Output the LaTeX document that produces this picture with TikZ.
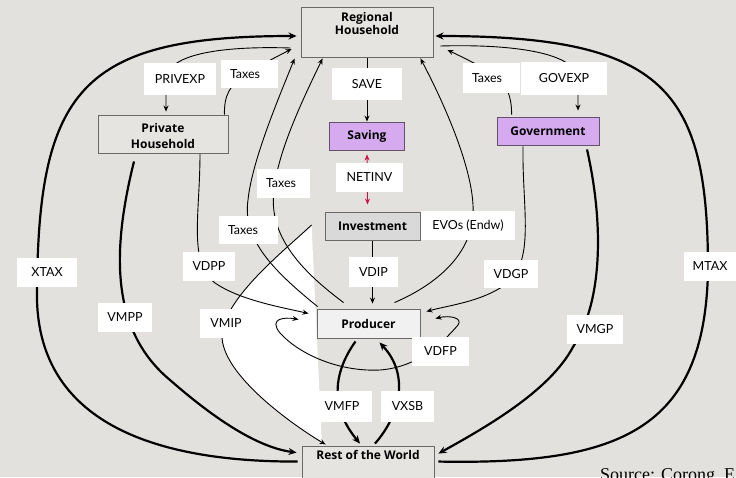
\documentclass[tikz,border=0pt]{standalone}
\usepackage{fontspec}
\setmainfont{Lato}
\newfontfamily\boxfont{Open Sans}
\newfontfamily\sourcefont{Liberation Serif}
\usetikzlibrary{arrows.meta,calc}

\definecolor{bgcol}{RGB}{227,225,221}
\definecolor{boxline}{RGB}{105,105,105}
\definecolor{hhfill}{RGB}{230,228,225}
\definecolor{purpfill}{RGB}{214,170,238}
\definecolor{purpline}{RGB}{100,82,108}
\definecolor{invfill}{RGB}{217,217,217}
\definecolor{prodfill}{RGB}{241,241,241}
\definecolor{netred}{RGB}{200,22,72}

\pgfdeclarelayer{bg}
\pgfdeclarelayer{lines}
\pgfsetlayers{bg,lines,main}

\begin{document}
\begin{tikzpicture}[x=1pt,y=-1pt,
  nodebox/.style={draw=boxline,line width=0.9pt,fill=hhfill,inner sep=0pt,align=center,
    font=\boxfont\bfseries\fontsize{12}{16}\selectfont},
  boxtext/.style={inner sep=0pt,align=center,font=\boxfont\bfseries\fontsize{12}{16}\selectfont},
  lbl/.style={fill=white,inner sep=0pt,font=\fontsize{12.5}{15}\selectfont},
  lblL/.style={lbl,align=left,inner xsep=9pt},
  flow/.style={line width=0.9pt,-{Stealth[length=6pt,width=5pt]}},
  flowplain/.style={line width=0.9pt},
  bigflow/.style={line width=2.2pt,-{Stealth[length=8pt,width=7pt]}},
  bigplain/.style={line width=2.2pt}]

\useasboundingbox (0,0) rectangle (736,477);
\clip (0,0) rectangle (736,477);

% ---------- sectors ----------
\node[nodebox, minimum width=132pt, minimum height=50pt] (rh) at (367,32) {};
\node[boxtext, font=\boxfont\bfseries\fontsize{12}{12.7}\selectfont] (rhtext) at (367,23.4) {Regional\\Household};
\node[nodebox, minimum width=130pt, minimum height=38pt] (ph) at (163,134) {};
\node[boxtext] (phtext) at (163,135.5) {Private\\Household};
\node[nodebox, fill=purpfill, draw=purpline, minimum width=75pt, minimum height=28pt] (sav) at (367,136) {Saving};
\node[nodebox, fill=purpfill, draw=purpline, minimum width=102pt, minimum height=28pt] (gov) at (548,131) {Government};
\node[nodebox, fill=invfill, minimum width=95pt, minimum height=28pt] (inv) at (372.5,226) {Investment};
\node[nodebox, fill=prodfill, minimum width=103pt, minimum height=29pt] (prod) at (368.5,323.5) {Producer};
\node[nodebox, minimum width=132pt, minimum height=60pt] (row) at (368,476) {};
\node[boxtext, anchor=base] (rowtext) at (368,459.3) {Rest of the World};

% ---------- background and flows ----------
\begin{pgfonlayer}{bg}
  \fill[bgcol] (0,0) rectangle (736,477);
  \fill[white] ($(inv.west)+(-13,-1)$) .. controls (285,250) and (224,298) .. (222,335)
     .. controls (221,372) and (285,420) .. ($(row.north west)+(24,-1)$) -- (322,446) -- cycle;
\end{pgfonlayer}

\begin{pgfonlayer}{lines}
  % export and import taxes (outer arcs)
  \draw[bigflow] ($(row.north west)+(-4,16)$) .. controls (150,462) and (40,420) .. (37,300)
     .. controls (37,90) and (80,36) .. ($(rh.west)+(-4,4)$);
  \draw[bigflow] ($(row.north east)+(4,16)$) .. controls (620,465) and (705,430) .. (708,270)
     .. controls (708,90) and (665,36) .. ($(rh.east)+(2,4)$);
  % private household
  \draw[flow] ($(rh.west)+(-10,16)$) .. controls (230,46) and (166,52) .. (166,80) -- ($(ph.north)+(3,-3)$);
  \draw[flow] ($(ph.north east)+(-4,0)$) .. controls (224,95) and (230,85) .. (245,75)
     .. controls (260,65) and (280,55) .. ($(rh.west)+(-9,17)$);
  \draw[flow] ($(ph.south)+(37,0)$) .. controls (200,215) and (188,262) .. (215,283)
     .. controls (240,300) and (280,307) .. ($(prod.west)+(-8,-10)$);
  \draw[bigflow] ($(ph.south)+(-29,8)$) .. controls (112,250) and (110,330) .. (170,380)
     .. controls (210,415) and (255,447) .. ($(row.north west)+(-5,7)$);
  % government
  \draw[flow] ($(rh.east)+(7,14)$) .. controls (510,44) and (578,52) .. (578,80) -- ($(gov.north)+(30,-6)$);
  \draw[flow] ($(gov.north west)+(15,-2)$) .. controls (512,95) and (505,80) .. (490,72)
     .. controls (475,63) and (458,55) .. ($(rh.east)+(14,18)$);
  \draw[flow] ($(gov.south)+(-25,1)$) .. controls (522,210) and (536,262) .. (505,285)
     .. controls (480,302) and (450,305) .. ($(prod.east)+(6,-12)$);
  \draw[bigflow] ($(gov.south)+(39,4)$) .. controls (603,220) and (604,300) .. (573,347)
     .. controls (550,390) and (490,425) .. ($(row.north east)+(4,8)$);
  % saving and investment
  \draw[flow] (rh.south) -- (sav.north);
  \draw[line width=0.9pt, netred, {Stealth[length=6pt,width=5pt]}-{Stealth[length=6pt,width=5pt]}]
     ($(sav.south)+(0,4)$) -- ($(inv.north)+(-5,-7)$);
  \draw[flow] (inv.south) -- ($(prod.north)+(4,-5)$);
  % producer
  \draw[flow] ($(prod.north west)+(1,-2)$) .. controls (275,272) and (242,240) .. (248,200)
     .. controls (252,160) and (280,95) .. ($(rh.south west)+(-6,1)$);
  \draw[flow] ($(prod.north west)+(27,-6)$) .. controls (300,270) and (268,235) .. (274,190)
     .. controls (278,150) and (305,95) .. ($(rh.south west)+(22,1)$);
  \draw[flow] ($(prod.north)+(26,-6)$) .. controls (440,283) and (476,250) .. (473,205)
     .. controls (471,165) and (445,105) .. ($(rh.south east)+(-13,1)$);
  \draw[flow] ($(inv.west)+(-13,-1)$) .. controls (285,250) and (224,298) .. (222,335)
     .. controls (221,372) and (285,420) .. ($(row.north west)+(24,-1)$);
  \draw[line width=0.9pt, {Stealth[length=6pt,width=5pt]}-{Stealth[length=6pt,width=5pt]}]
     ($(prod.west)+(-18,-4)$) .. controls (285,317) and (268,318) .. (280,333)
     .. controls (300,355) and (340,372) .. (380,370)
     .. controls (420,367) and (445,340) .. (458,325)
     .. controls (463,318) and (450,315) .. ($(prod.east)+(15,-5)$);
  \draw[bigflow] ($(prod.south)+(-13,3)$) .. controls (335,370) and (328,405) .. ($(row.north)+(-8,-2)$);
  \draw[bigflow] ($(row.north)+(7,-2)$) .. controls (400,415) and (410,375) .. ($(prod.south)+(11,4)$);
\end{pgfonlayer}

% ---------- flow labels ----------
\node[lbl, minimum width=72pt, minimum height=32pt] (lprivexp) at (180,79) {PRIVEXP};
\node[lblL, text width=39pt, minimum height=28pt] (ltaxa) at (249.5,74) {Taxes};
\node[lbl, minimum width=70pt, minimum height=32pt] (lsave) at (367,84) {SAVE};
\node[lblL, text width=39pt, minimum height=30pt] (ltaxb) at (491.5,78) {Taxes};
\node[lbl, minimum width=86pt, minimum height=33pt] (lgovexp) at (564,78.5) {GOVEXP};
\node[lbl, minimum width=67pt, minimum height=29pt] (lnetinv) at (369.5,177.5) {NETINV};
\node[lblL, text width=35pt, minimum height=29pt] (ltaxc) at (283.5,183.5) {Taxes};
\node[lblL, text width=41pt, minimum height=28pt] (ltaxd) at (248.5,230) {Taxes};
\node[lbl, minimum width=52pt, minimum height=29pt] (lvdpp) at (209,266.5) {VDPP};
\node[lbl, minimum width=94pt, minimum height=29pt] (levos) at (468,225.5) {EVOs (Endw)};
\node[lbl, minimum width=54pt, minimum height=28pt] (lvdgp) at (511,274) {VDGP};
\node[lbl, minimum width=49pt, minimum height=30pt] (lvdip) at (373.5,272) {VDIP};
\node[lbl, minimum width=52pt, minimum height=29pt] (lvmip) at (226,323.5) {VMIP};
\node[lbl, minimum width=57pt, minimum height=29pt] (lvdfp) at (440.5,351.5) {VDFP};
\node[lbl, minimum width=60pt, minimum height=29pt] (lxtax) at (47,272.5) {XTAX};
\node[lbl, minimum width=54pt, minimum height=29pt] (lvmpp) at (125,317.5) {VMPP};
\node[lbl, minimum width=52pt, minimum height=29pt] (lmtax) at (710,266.5) {MTAX};
\node[lbl, minimum width=56pt, minimum height=29pt] (lvmgp) at (595,329.5) {VMGP};
\node[lbl, minimum width=60pt, minimum height=31pt] (lvmfp) at (342,406.5) {VMFP};
\node[lbl, minimum width=53pt, minimum height=31pt] (lvxsb) at (407.5,406.5) {VXSB};

% ---------- source note ----------
\node[anchor=base west, inner sep=0pt, font=\sourcefont\fontsize{18}{20}\selectfont] (src) at (600,480) {Source: Corong, E.};
\end{tikzpicture}
\end{document}
